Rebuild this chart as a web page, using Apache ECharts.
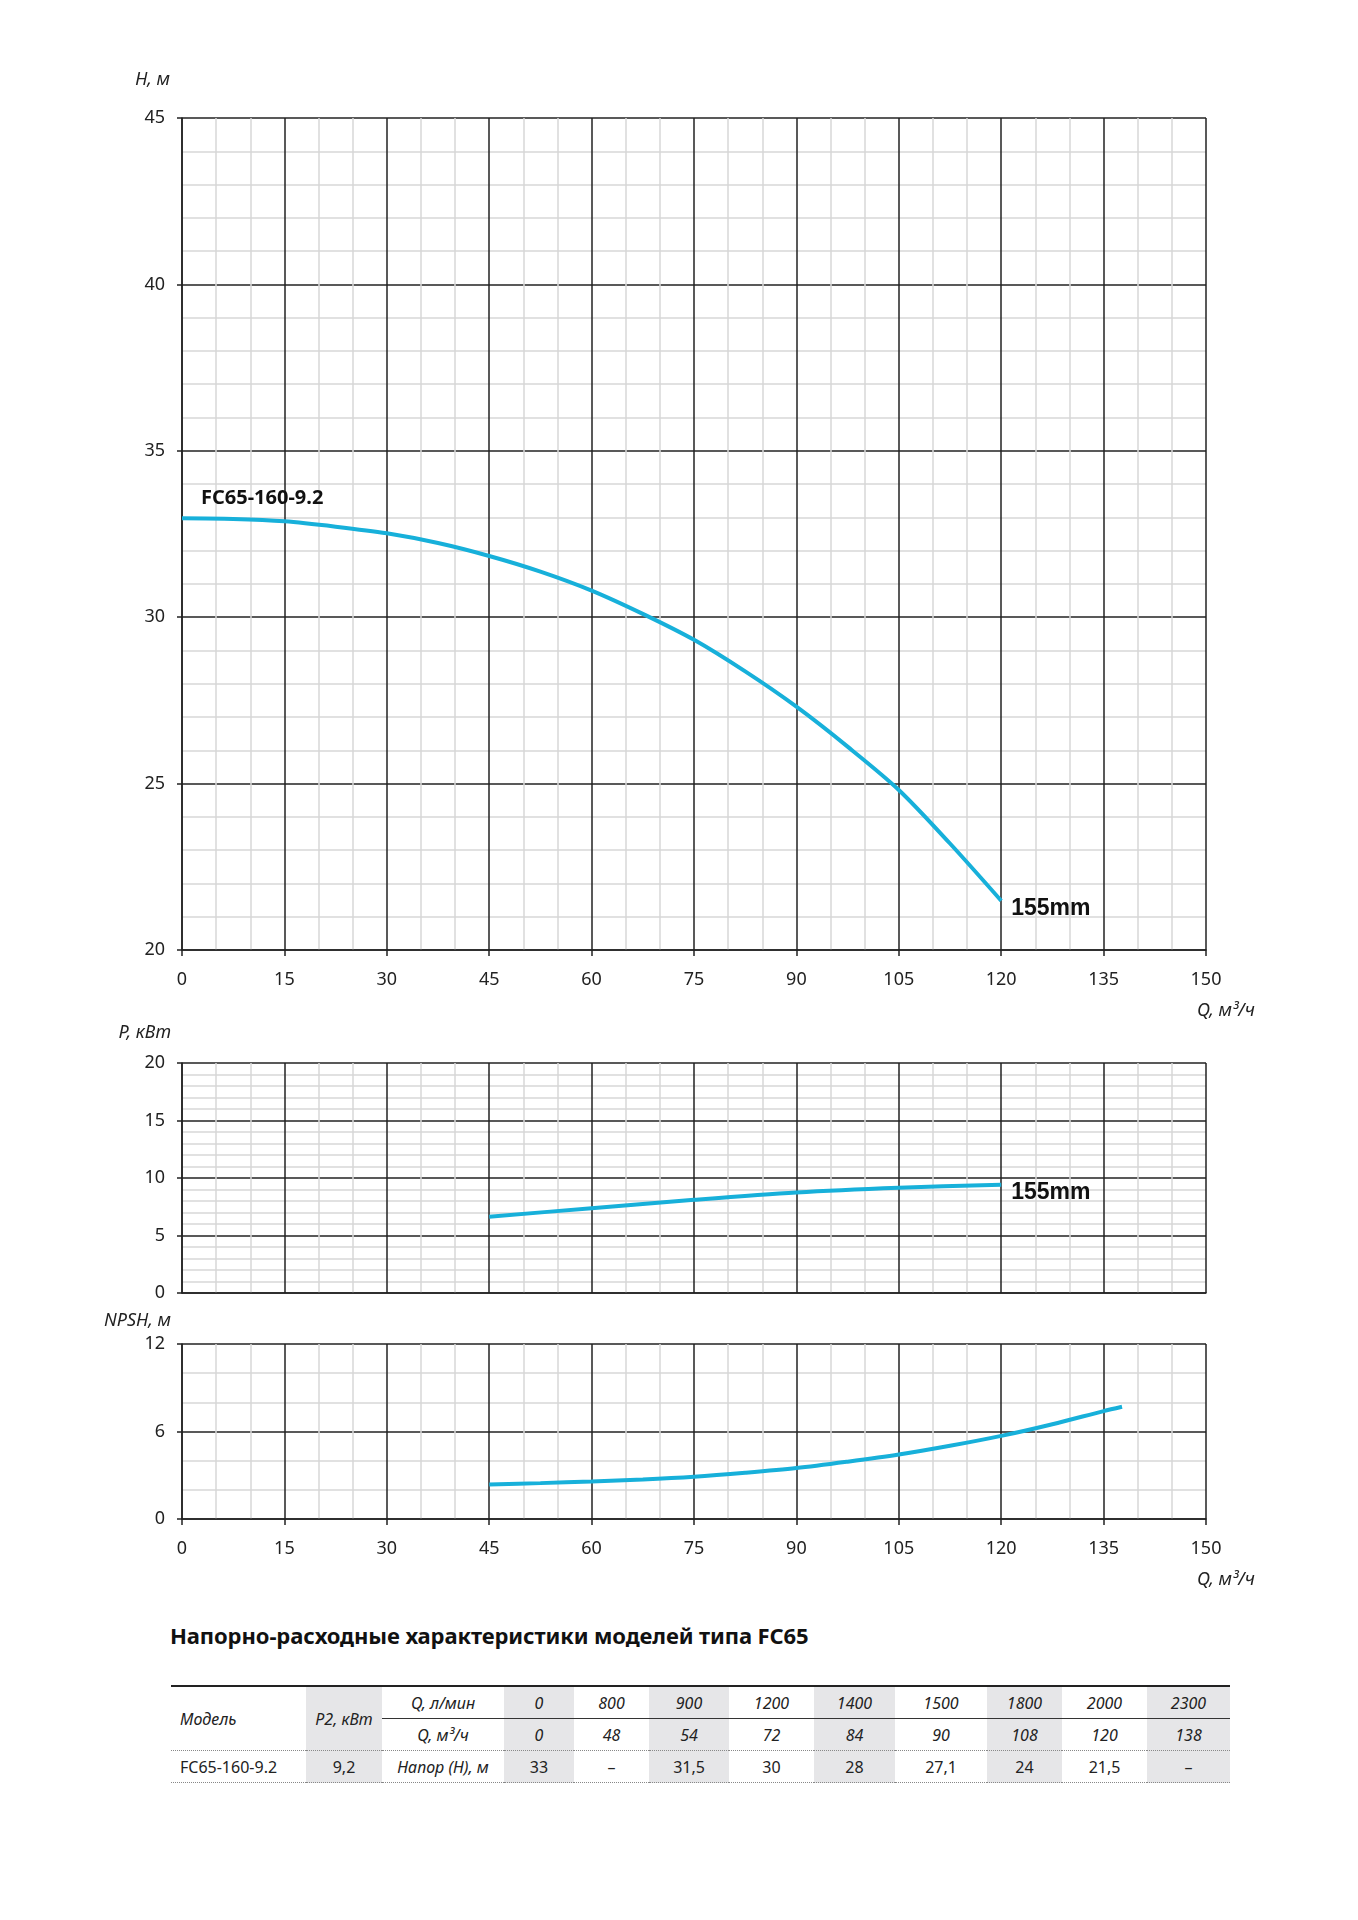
<!DOCTYPE html>
<html>
<head>
<meta charset="utf-8">
<script src="https://cdn.jsdelivr.net/npm/echarts@6/dist/echarts.min.js"></script>
<style>
body { margin: 0; background: #fff; color: #1e1e1e; font-family: 'Noto Sans', sans-serif; }
#chart { position: absolute; left: 0; top: 0; width: 1358px; height: 1610px; }
#title { position: absolute; left: 170px; top: 1620px; font-size: 22px; font-weight: bold; line-height: 30px; color: #111; letter-spacing: -0.1px; }
#tbl { position: absolute; left: 171px; top: 1685px; border-collapse: collapse; font-size: 16px; color: #222; table-layout: fixed; }
#tbl td { height: 31px; padding: 0; text-align: center; }
#tbl tr.r1 td { border-top: 2px solid #222; }
#tbl tr.r1 td.q { border-bottom: 1.5px solid #333; }
#tbl tr.r2 td, #tbl td.span { border-bottom: 1px dotted #888; }
#tbl tr.r3 td { border-bottom: 1px dotted #888; }
#tbl td.it { font-style: italic; }
#tbl td.g { background: #e6e6e8; }
#tbl td.left { text-align: left; padding-left: 9px; }
</style>
</head>
<body>
<div id="chart"></div>
<div id="title">Напорно-расходные характеристики моделей типа FC65</div>
<table id="tbl"></table>
<script>
// кривая напора H(Q)
var qH = [0, 7.5, 15, 22.5, 30, 37.5, 45, 52.5, 60, 67.5, 75, 82.5, 90, 97.5, 105, 112.5, 120];
var hH = [32.97, 32.95, 32.88, 32.72, 32.52, 32.23, 31.84, 31.37, 30.8, 30.1, 29.32, 28.37, 27.31, 26.11, 24.81, 23.2, 21.48];
// мощность P(Q)
var qP = [45, 60, 75, 90, 105, 120];
var pP = [6.64, 7.37, 8.1, 8.74, 9.15, 9.42];
// NPSH(Q)
var qN = [45, 52.5, 60, 67.5, 75, 82.5, 90, 97.5, 105, 112.5, 120, 127.5, 135, 137.7];
var nN = [2.37, 2.46, 2.57, 2.71, 2.9, 3.17, 3.49, 3.93, 4.42, 5.02, 5.7, 6.5, 7.4, 7.7];

// таблица
var qLmin = ['0', '800', '900', '1200', '1400', '1500', '1800', '2000', '2300'];
var qM3h = ['0', '48', '54', '72', '84', '90', '108', '120', '138'];
var headVals = ['33', '–', '31,5', '30', '28', '27,1', '24', '21,5', '–'];
var modelName = 'FC65-160-9.2';
var modelP2 = '9,2';
var colW = [135, 76, 122, 70, 75, 80, 85, 81, 92, 75, 85, 83];

var lineColor = '#17b0da';
var dark = '#222';
var minorColor = '#d8d8d8';
var tickFont = { fontSize: 18, color: dark, fontFamily: 'Noto Sans' };

function pairs(xs, ys) {
    return xs.map(function (x, i) { return [x, ys[i]]; });
}

function xAxisFor(gi, withLabels) {
    return {
        type: 'value', gridIndex: gi, min: 0, max: 150, interval: 15,
        axisLine: { show: true, onZero: false, lineStyle: { color: dark, width: 1.5 } },
        axisTick: { show: withLabels, length: 6, lineStyle: { color: dark, width: 1.5 } },
        axisLabel: Object.assign({ show: withLabels, margin: 21 }, tickFont),
        splitLine: { show: true, lineStyle: { color: dark, width: 1.5 } },
        minorTick: { show: false, splitNumber: 3 },
        minorSplitLine: { show: true, lineStyle: { color: minorColor, width: 1.5 } }
    };
}

function yAxisFor(gi, min, max, interval, minorSplit) {
    return {
        type: 'value', gridIndex: gi, min: min, max: max, interval: interval,
        axisLine: { show: true, lineStyle: { color: dark, width: 1.5 } },
        axisTick: { show: true, length: 5, lineStyle: { color: dark, width: 1.5 } },
        axisLabel: Object.assign({ margin: 17 }, tickFont),
        splitLine: { show: true, lineStyle: { color: dark, width: 1.5 } },
        minorTick: { show: false, splitNumber: minorSplit },
        minorSplitLine: { show: true, lineStyle: { color: minorColor, width: 1.5 } }
    };
}

function curve(gi, data, label) {
    var s = {
        type: 'line', xAxisIndex: gi, yAxisIndex: gi, data: data,
        smooth: 0.3, symbol: 'none', z: 5,
        lineStyle: { color: lineColor, width: 4 }
    };
    if (label) {
        s.endLabel = {
            show: true, formatter: label, color: '#111',
            fontFamily: 'Liberation Sans', fontWeight: 'bold', fontSize: 23,
            distance: 10, offset: [0, 8]
        };
    }
    return s;
}

var chart = echarts.init(document.getElementById('chart'), null, { renderer: 'canvas' });

var option = {
    animation: false,
    grid: [
        { left: 182, top: 118, width: 1024, height: 832 },
        { left: 182, top: 1063, width: 1024, height: 230 },
        { left: 182, top: 1344, width: 1024, height: 175 }
    ],
    xAxis: [xAxisFor(0, true), xAxisFor(1, false), xAxisFor(2, true)],
    yAxis: [yAxisFor(0, 20, 45, 5, 5), yAxisFor(1, 0, 20, 5, 5), yAxisFor(2, 0, 12, 6, 3)],
    series: [
        curve(0, pairs(qH, hH), '155mm'),
        curve(1, pairs(qP, pP), '155mm'),
        curve(2, pairs(qN, nN), null)
    ]
};
chart.setOption(option);

function axisName(text, x, y, align) {
    return {
        type: 'text', x: x, y: y, z: 10,
        style: {
            text: text, fill: dark, font: 'italic 18px "Noto Sans"',
            textAlign: align, textVerticalAlign: 'middle'
        }
    };
}

var start = chart.convertToPixel({ gridIndex: 0 }, [qH[0], hH[0]]);
chart.setOption({
    graphic: [
        axisName('Н, м', 170, 80, 'right'),
        axisName('P, кВт', 171, 1033, 'right'),
        axisName('NPSH, м', 171, 1321, 'right'),
        axisName('Q, м³/ч', 1197, 1011, 'left'),
        axisName('Q, м³/ч', 1197, 1580, 'left'),
        {
            type: 'text', x: start[0] + 19, y: start[1] - 20, z: 10,
            style: {
                text: modelName, fill: '#111', font: 'bold 20px "Noto Sans"',
                textAlign: 'left', textVerticalAlign: 'middle'
            }
        }
    ]
});

// таблица под графиком
var tbl = document.getElementById('tbl');
var cg = '<colgroup>' + colW.map(function (w) { return '<col style="width:' + w + 'px">'; }).join('') + '</colgroup>';
function cells(vals, cls) {
    return vals.map(function (v, i) {
        return '<td class="' + cls + (i % 2 === 0 ? ' g' : '') + '">' + v + '</td>';
    }).join('');
}
tbl.innerHTML = cg +
    '<tr class="r1"><td rowspan="2" class="it left span">Модель</td>' +
    '<td rowspan="2" class="it g span">P2, кВт</td>' +
    '<td class="it q">Q, л/мин</td>' + cells(qLmin, 'it q') + '</tr>' +
    '<tr class="r2"><td class="it">Q, м³/ч</td>' + cells(qM3h, 'it') + '</tr>' +
    '<tr class="r3"><td class="left">' + modelName + '</td><td class="g">' + modelP2 + '</td>' +
    '<td class="it">Напор (Н), м</td>' + cells(headVals, '') + '</tr>';
</script>
</body>
</html>
